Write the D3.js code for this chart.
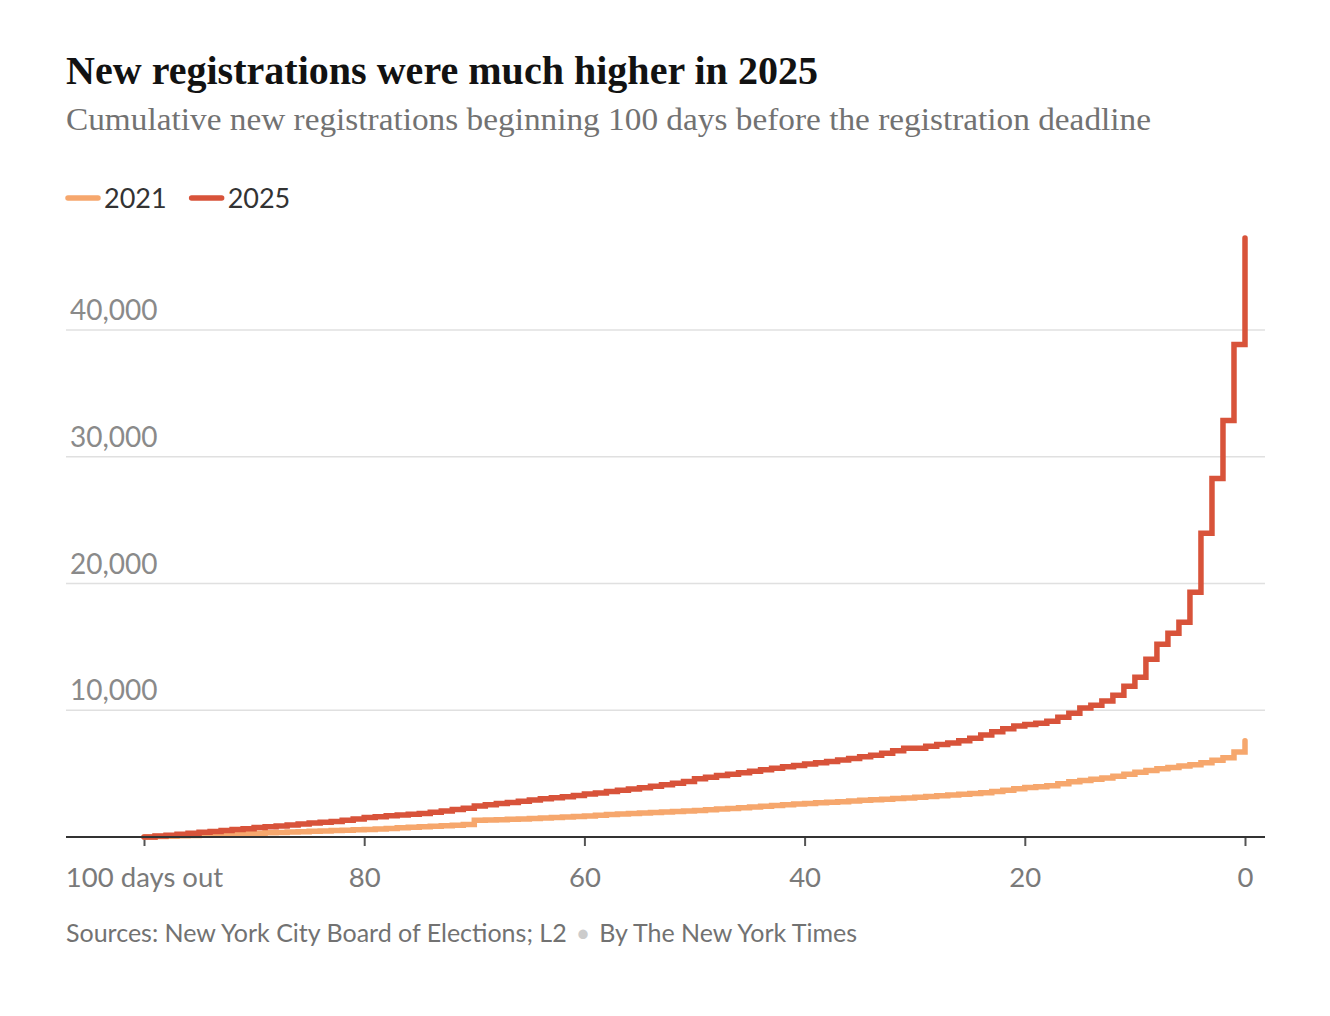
<!DOCTYPE html>
<html>
<head>
<meta charset="utf-8">
<script src="https://cdn.jsdelivr.net/npm/d3@7"></script>
<style>
  body { margin: 0; background: #fff; }
  svg { display: block; }
</style>
</head>
<body>
<svg id="chart" width="1330" height="1016"></svg>
<script>
// days out, from 100 down to 0
const days = d3.range(100, -1, -1);

// cumulative new registrations, one value per day (100 days out ... 0)
const reg2021 = [
  0, 30, 60, 90, 120, 150, 180, 210, 240, 270,
  300, 330, 360, 390, 420, 450, 480, 510, 540, 570,
  600, 640, 680, 720, 760, 800, 840, 880, 930, 980,
  1320, 1340, 1370, 1400, 1430, 1460, 1500, 1540, 1580, 1620,
  1660, 1720, 1770, 1810, 1850, 1890, 1930, 1970, 2010, 2050,
  2100, 2150, 2200, 2250, 2300, 2360, 2420, 2480, 2540, 2600,
  2650, 2700, 2740, 2790, 2840, 2890, 2940, 2980, 3030, 3080,
  3130, 3190, 3250, 3310, 3370, 3430, 3500, 3580, 3680, 3800,
  3900, 3960, 4050, 4200, 4350, 4450, 4550, 4650, 4800, 4950,
  5100, 5250, 5380, 5480, 5600, 5700, 5850, 6050, 6250, 6700,
  7600
];

const reg2025 = [
  0, 70, 140, 220, 300, 370, 440, 520, 590, 660,
  740, 800, 870, 950, 1030, 1100, 1160, 1230, 1320, 1420,
  1530, 1600, 1670, 1730, 1790, 1860, 1960, 2060, 2160, 2260,
  2450, 2550, 2640, 2730, 2830, 2920, 3020, 3100, 3180, 3280,
  3400, 3480, 3580, 3680, 3780, 3880, 4000, 4120, 4240, 4380,
  4600, 4720, 4850, 4950, 5060, 5180, 5300, 5420, 5540, 5650,
  5750, 5850, 5960, 6080, 6200, 6330, 6450, 6600, 6800, 7000,
  7000, 7150, 7300, 7420, 7600, 7800, 8050, 8300, 8550, 8750,
  8880, 8980, 9140, 9450, 9770, 10170, 10400, 10720, 11190, 11900,
  12600, 14030, 15200, 16080, 16940, 19300, 23960, 28290, 32860, 38850,
  47250
];

const seriesNames = ["2021", "2025"];
const seriesColors = { "2021": "#f6a76d", "2025": "#d8533a" };
const yTicks = [10000, 20000, 30000, 40000];
const xTicks = [100, 80, 60, 40, 20, 0];

const svg = d3.select("#chart");
const sans = "Lato, 'Noto Sans', sans-serif";
const serif = "'Liberation Serif', 'DejaVu Serif', serif";

const x = d3.scaleLinear().domain([100, 0]).range([144, 1245]);
const y = d3.scaleLinear().domain([0, 40000]).range([837, 330]);

// title and subtitle
svg.append("text")
  .attr("x", 66).attr("y", 84)
  .attr("font-family", serif)
  .attr("font-weight", "bold")
  .attr("font-size", 40)
  .attr("textLength", 752)
  .attr("lengthAdjust", "spacingAndGlyphs")
  .attr("fill", "#121212")
  .text("New registrations were much higher in 2025");

svg.append("text")
  .attr("x", 66).attr("y", 130)
  .attr("font-family", serif)
  .attr("font-size", 31)
  .attr("textLength", 1085)
  .attr("lengthAdjust", "spacingAndGlyphs")
  .attr("fill", "#727272")
  .text("Cumulative new registrations beginning 100 days before the registration deadline");

// legend
const legend = svg.append("g").attr("transform", "translate(66,198)");
let lx = 0;
seriesNames.forEach(name => {
  legend.append("line")
    .attr("x1", lx + 2).attr("x2", lx + 32)
    .attr("y1", 0).attr("y2", 0)
    .attr("stroke", seriesColors[name])
    .attr("stroke-width", 5.5)
    .attr("stroke-linecap", "round");
  const t = legend.append("text")
    .attr("x", lx + 38).attr("y", 10)
    .attr("font-family", sans)
    .attr("font-size", 27)
    .attr("fill", "#333")
    .text(name);
  lx += 38 + t.node().getComputedTextLength() + 23;
});

// gridlines + y labels
const grid = svg.append("g");
yTicks.forEach(v => {
  grid.append("line")
    .attr("x1", 66).attr("x2", 1265)
    .attr("y1", y(v)).attr("y2", y(v))
    .attr("stroke", "#e0e0e0")
    .attr("stroke-width", 1.5);
  grid.append("text")
    .attr("x", 70).attr("y", y(v) - 10)
    .attr("font-family", sans)
    .attr("font-size", 28)
    .attr("fill", "#8a8a8a")
    .text(d3.format(",")(v));
});

// x axis
const xAxis = d3.axisBottom(x)
  .tickValues(xTicks)
  .tickSize(9)
  .tickFormat(d => d === 100 ? "100 days out" : d);

const gx = svg.append("g")
  .attr("transform", `translate(0,${y(0)})`)
  .call(xAxis);
gx.select(".domain").remove();
gx.selectAll(".tick line").attr("stroke", "#555").attr("stroke-width", 2);
gx.selectAll(".tick text")
  .attr("y", 30)
  .attr("font-family", sans)
  .attr("font-size", 27.5)
  .attr("fill", "#7a7a7a");

// lines
const line = d3.line()
  .x(d => x(d[0]))
  .y(d => y(d[1]))
  .curve(d3.curveStepAfter);

const seriesData = {
  "2021": days.map((d, i) => [d, reg2021[i]]),
  "2025": days.map((d, i) => [d, reg2025[i]])
};

seriesNames.forEach(name => {
  svg.append("path")
    .datum(seriesData[name])
    .attr("d", line)
    .attr("fill", "none")
    .attr("stroke", seriesColors[name])
    .attr("stroke-width", 5.5)
    .attr("stroke-linejoin", "miter")
    .attr("stroke-linecap", "round");
});

// baseline drawn over the lines
svg.append("line")
  .attr("x1", 66).attr("x2", 1265)
  .attr("y1", y(0)).attr("y2", y(0))
  .attr("stroke", "#333")
  .attr("stroke-width", 2);

// source
const src = svg.append("text")
  .attr("x", 66).attr("y", 942)
  .attr("font-family", sans)
  .attr("font-size", 25)
  .attr("fill", "#727272");
src.append("tspan").text("Sources: New York City Board of Elections; L2");
src.append("tspan").attr("fill", "#ccc").attr("dx", 9).text("•");
src.append("tspan").attr("dx", 9).text("By The New York Times");
</script>
</body>
</html>
